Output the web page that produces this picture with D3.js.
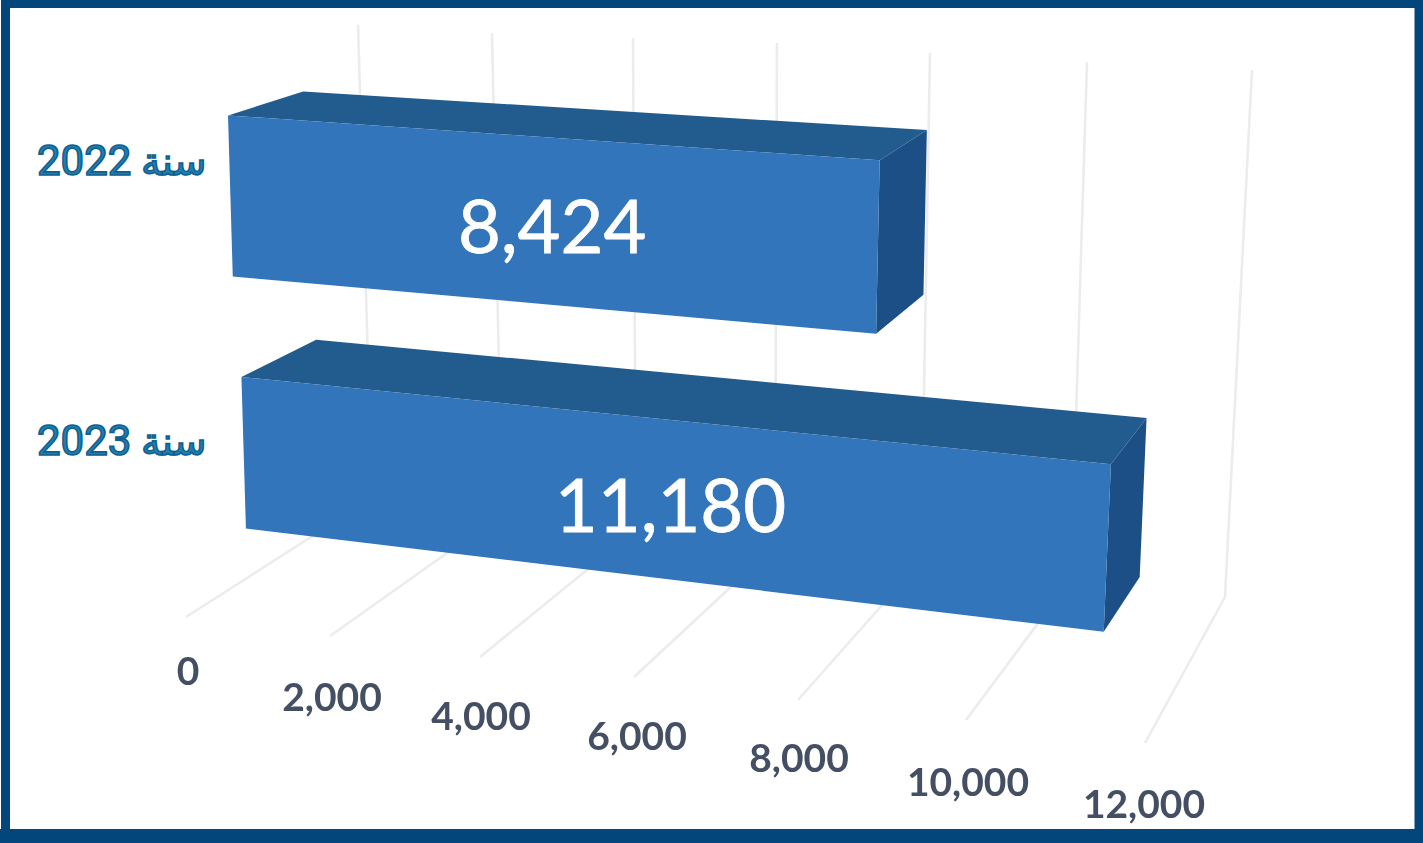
<!DOCTYPE html>
<html>
<head>
<meta charset="utf-8">
<script src="https://cdn.jsdelivr.net/npm/d3@7"></script>
<style>
    html, body { margin: 0; padding: 0; background: #fff; }
    svg { display: block; }
</style>
</head>
<body>
<svg id="canvas" width="1423" height="843"></svg>
<script>
    // chart data
    const categories = ['سنة 2022', 'سنة 2023'];
    const values = [8424, 11180];
    const tickValues = [0, 2000, 4000, 6000, 8000, 10000, 12000];

    const width = 1423;
    const height = 843;
    let svg = d3.select('#canvas');

    // perspective of the chart box - one scale per edge, each tick has its own spot
    let frontX = d3.scaleLinear().domain(tickValues).range([186, 330, 480, 634, 798, 966, 1145]);
    let frontY = d3.scaleLinear().domain(tickValues).range([617, 636, 657, 677, 700, 720, 743]);
    let backX = d3.scaleLinear().domain(tickValues).range([372, 502, 636, 775, 921, 1071, 1225]);
    let backY = d3.scaleLinear().domain(tickValues).range([498, 514, 530, 546, 561, 579, 597]);
    let topX = d3.scaleLinear().domain(tickValues).range([358, 492, 633, 777, 930, 1087, 1252]);
    let topY = d3.scaleLinear().domain(tickValues).range([25, 33, 38, 43, 53, 62, 70]);

    // v = value, z = depth on the floor (0 front, 1 back), h = height on the wall
    function project(v, z, h){
        let shrink = 1 + 0.14 * (1 - z);
        let fx = frontX(v) + (backX(v) - frontX(v)) * z;
        let fy = frontY(v) + (backY(v) - frontY(v)) * z;
        return [
            fx + (topX(v) - backX(v)) * h * shrink,
            fy + (topY(v) - backY(v)) * h * shrink
        ];
    }

    // depth and height range of each bar inside the box
    const barBox = [
        {z0: 0.30, z1: 0.70, h0: 0.587, h1: 0.897},
        {z0: 0.33, z1: 0.73, h0: 0.095, h1: 0.388}
    ];

    // small nudges of the labels, the original ones are not quite in line
    const tickNudgeX = [2, 2, 1, 3, 1, 2, -1];
    const tickNudgeY = [-5, 2, 0, 0, -1, 3, 2];
    const valueNudgeX = [-2, -5];

    const frontColor = '#3075ba';
    const topColor = '#245b8f';
    const sideColor = '#1f5086';
    const gridColor = '#ececec';
    const borderColor = '#03467b';
    const labelColor = '#454f63';

    // the source is a soft jpeg, so a light blur on the drawing
    let soft = svg.append('defs').append('filter')
        .attr('id', 'soft')
        .attr('x', '-5%').attr('y', '-5%')
        .attr('width', '110%').attr('height', '110%');
    soft.append('feGaussianBlur').attr('stdDeviation', 0.6);

    let chart = svg.append('g').attr('filter', 'url(#soft)');

    // gridlines: front of floor -> back of floor -> top of wall
    let line = d3.line();
    chart.selectAll('.grid')
        .data(tickValues)
        .enter()
        .append('path')
        .attr('class', 'grid')
        .attr('fill', 'none')
        .attr('stroke', gridColor)
        .attr('stroke-width', 2.6)
        .attr('d', function(d){
            return line([project(d, 0, 0), project(d, 1, 0), project(d, 1, 1)]);
        });

    // one group per bar, three visible faces
    let bars = chart.selectAll('.bar')
        .data(values)
        .enter()
        .append('g')
        .attr('class', 'bar');

    bars.append('path')
        .attr('fill', topColor)
        .attr('d', function(d, i){
            let b = barBox[i];
            return line([project(0, b.z0, b.h1), project(0, b.z1, b.h1), project(d, b.z1, b.h1), project(d, b.z0, b.h1)]) + 'Z';
        });

    bars.append('path')
        .attr('fill', sideColor)
        .attr('d', function(d, i){
            let b = barBox[i];
            return line([project(d, b.z0, b.h1), project(d, b.z1, b.h1), project(d, b.z1, b.h0), project(d, b.z0, b.h0)]) + 'Z';
        });

    bars.append('path')
        .attr('fill', frontColor)
        .attr('d', function(d, i){
            let b = barBox[i];
            return line([project(0, b.z0, b.h1), project(d, b.z0, b.h1), project(d, b.z0, b.h0), project(0, b.z0, b.h0)]) + 'Z';
        });

    // value labels in the middle of the front face
    bars.append('text')
        .attr('text-anchor', 'middle')
        .attr('font-family', 'Lato, Carlito, sans-serif')
        .attr('font-size', 74)
        .attr('fill', '#fff')
        .attr('stroke', '#fff')
        .attr('stroke-width', 0.8)
        .attr('x', function(d, i){
            let b = barBox[i];
            return d3.mean([project(0, b.z0, b.h0), project(0, b.z0, b.h1), project(d, b.z0, b.h0), project(d, b.z0, b.h1)], p => p[0]) + valueNudgeX[i];
        })
        .attr('y', function(d, i){
            let b = barBox[i];
            return d3.mean([project(0, b.z0, b.h0), project(0, b.z0, b.h1), project(d, b.z0, b.h0), project(d, b.z0, b.h1)], p => p[1]) + 32;
        })
        .text(d3.format(','));

    // axis labels under the front ends of the gridlines
    chart.selectAll('.tick')
        .data(tickValues)
        .enter()
        .append('text')
        .attr('class', 'tick')
        .attr('text-anchor', 'middle')
        .attr('font-family', 'Lato, Carlito, sans-serif')
        .attr('font-weight', 'bold')
        .attr('font-size', 39)
        .attr('fill', labelColor)
        .attr('x', (d, i) => frontX(d) + tickNudgeX[i])
        .attr('y', (d, i) => frontY(d) + 73 + tickNudgeY[i])
        .text(d3.format(','));

    // category labels to the left of each bar - arabic word a bit smaller than the year
    let cats = svg.selectAll('.cat')
        .data(categories)
        .enter()
        .append('text')
        .attr('class', 'cat')
        .attr('text-anchor', 'end')
        .attr('direction', 'rtl')
        .attr('font-family', 'Roboto, "DejaVu Sans", sans-serif')
        .attr('font-size', 42)
        .attr('fill', '#2180b2')
        .attr('stroke', '#0f5f8f')
        .attr('stroke-width', 1.6)
        .attr('x', 37)
        .attr('y', (d, i) => i == 0 ? 175 : 455);
    cats.append('tspan')
        .attr('font-size', 39)
        .text(d => d.split(' ')[0] + ' ');
    cats.append('tspan')
        .text(d => d.split(' ')[1]);

    // frame around the picture
    svg.append('rect')
        .attr('x', 5.5)
        .attr('y', 3.5)
        .attr('width', width - 9.5)
        .attr('height', height - 13)
        .attr('fill', 'none')
        .attr('stroke', borderColor)
        .attr('stroke-width', 9);
    svg.append('rect')
        .attr('x', 0)
        .attr('y', height - 14)
        .attr('width', width)
        .attr('height', 14)
        .attr('fill', borderColor);
</script>
</body>
</html>
